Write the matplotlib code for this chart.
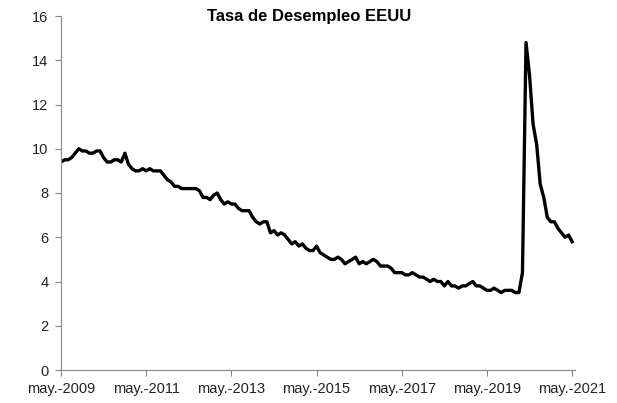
import matplotlib
matplotlib.use("Agg")
import matplotlib.pyplot as plt
import numpy as np

plt.rcParams['font.family'] = ['Liberation Sans', 'DejaVu Sans']

# Monthly unemployment rate, May 2009 .. May 2021
rate_2009 = [9.4, 9.5, 9.5, 9.6, 9.8, 10.0, 9.9, 9.9]
rate_2010 = [9.8, 9.8, 9.9, 9.9, 9.6, 9.4, 9.4, 9.5, 9.5, 9.4, 9.8, 9.3]
rate_2011 = [9.1, 9.0, 9.0, 9.1, 9.0, 9.1, 9.0, 9.0, 9.0, 8.8, 8.6, 8.5]
rate_2012 = [8.3, 8.3, 8.2, 8.2, 8.2, 8.2, 8.2, 8.1, 7.8, 7.8, 7.7, 7.9]
rate_2013 = [8.0, 7.7, 7.5, 7.6, 7.5, 7.5, 7.3, 7.2, 7.2, 7.2, 6.9, 6.7]
rate_2014 = [6.6, 6.7, 6.7, 6.2, 6.3, 6.1, 6.2, 6.1, 5.9, 5.7, 5.8, 5.6]
rate_2015 = [5.7, 5.5, 5.4, 5.4, 5.6, 5.3, 5.2, 5.1, 5.0, 5.0, 5.1, 5.0]
rate_2016 = [4.8, 4.9, 5.0, 5.1, 4.8, 4.9, 4.8, 4.9, 5.0, 4.9, 4.7, 4.7]
rate_2017 = [4.7, 4.6, 4.4, 4.4, 4.4, 4.3, 4.3, 4.4, 4.3, 4.2, 4.2, 4.1]
rate_2018 = [4.0, 4.1, 4.0, 4.0, 3.8, 4.0, 3.8, 3.8, 3.7, 3.8, 3.8, 3.9]
rate_2019 = [4.0, 3.8, 3.8, 3.7, 3.6, 3.6, 3.7, 3.6, 3.5, 3.6, 3.6, 3.6]
rate_2020 = [3.5, 3.5, 4.4, 14.8, 13.3, 11.1, 10.2, 8.4, 7.8, 6.9, 6.7, 6.7]
rate_2021 = [6.4, 6.2, 6.0, 6.1, 5.8]

rates = (rate_2009 + rate_2010 + rate_2011 + rate_2012 + rate_2013 + rate_2014 +
         rate_2015 + rate_2016 + rate_2017 + rate_2018 + rate_2019 + rate_2020 + rate_2021)
months = np.arange(len(rates))

tick_labels = ["may.-2009", "may.-2011", "may.-2013", "may.-2015",
               "may.-2017", "may.-2019", "may.-2021"]
tick_pos = [0, 24, 48, 72, 96, 120, 144]
y_ticks = [0, 2, 4, 6, 8, 10, 12, 14, 16]

fig = plt.figure(figsize=(6.17, 4.03), dpi=100)
ax = fig.add_axes([61/617, 1-370/403, (575-61)/617, (370-16)/403])

ax.plot(months, rates, color='black', linewidth=2.4, solid_joinstyle='round')

ax.set_xlim(0, 144.8)
ax.set_ylim(0, 16)
ax.set_xticks(tick_pos)
ax.set_xticklabels(tick_labels)
ax.set_yticks(y_ticks)

for s in ['top', 'right']:
    ax.spines[s].set_visible(False)
for s in ['left', 'bottom']:
    ax.spines[s].set_color('#868686')
    ax.spines[s].set_linewidth(0.8)
ax.tick_params(axis='both', colors='#868686', labelcolor='#222222',
               labelsize=10.5, length=4, width=0.8, direction='out')
ax.tick_params(axis='x', pad=5)
ax.tick_params(axis='y', pad=5)

fig.text(309/617, 1-16/403, "Tasa de Desempleo EEUU", ha='center', va='center',
         fontsize=12, fontweight='bold')

fig.savefig("out.png", dpi=100)
